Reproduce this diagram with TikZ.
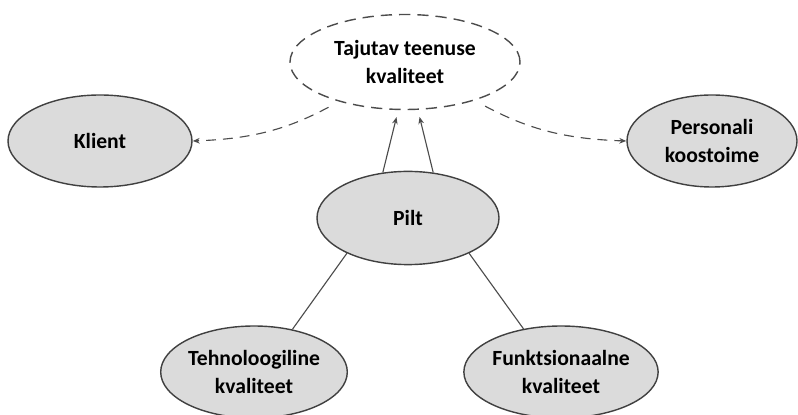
\documentclass[tikz,border=0pt]{standalone}
\usepackage{fontspec}
\setmainfont{Carlito}
\usepackage{xcolor}
\usetikzlibrary{shapes.geometric,arrows.meta}

\begin{document}
\begin{tikzpicture}[font=\fontsize{15.4}{19.5}\selectfont\bfseries,
    bubble/.style={ellipse, draw=black!75, line width=1pt, fill=black!14,
      inner sep=0pt, align=center},
    dashbubble/.style={ellipse, draw=black!70, line width=1pt, dash pattern=on 8pt off 5pt,
      inner sep=0pt, align=center},
    link/.style={draw=black!70, line width=0.8pt},
    dlink/.style={link, dash pattern=on 7pt off 5pt, -{Stealth[length=5pt,width=4pt]}}]
  \useasboundingbox (0,0) rectangle (19.95,-10.375);
  \node[dashbubble, minimum width=5.75cm, minimum height=2.375cm] (kval) at (10.125,-1.55) {Tajutav teenuse\\kvaliteet};
  \node[bubble, minimum width=4.6cm, minimum height=2.3cm] (klient) at (2.5,-3.525) {Klient};
  \node[bubble, minimum width=4.25cm, minimum height=2.3cm] (pers) at (17.8,-3.525) {Personali\\koostoime};
  \node[bubble, minimum width=4.55cm, minimum height=2.33cm] (pilt) at (10.2,-5.45) {Pilt};
  \node[bubble, minimum width=4.55cm, minimum height=2.3cm] (tehno) at (6.35,-9.3) {Tehnoloogiline\\kvaliteet};
  \node[bubble, minimum width=4.45cm, minimum height=2.3cm] (funk) at (14.025,-9.3) {Funktsionaalne\\kvaliteet};
  % pilt moves the perceived quality
  \draw[link, -{Stealth[length=5pt,width=4pt]}, shorten >=0.18cm] (pilt.119) -- (kval.262);
  \draw[link, -{Stealth[length=5pt,width=4pt]}, shorten >=0.18cm] (pilt.61) -- (kval.285);
  \draw[dlink, shorten <=0.3cm] (kval.211) to[bend left=13] (klient.east);
  \draw[dlink, shorten <=0.3cm] (kval.331) to[bend right=13] (pers.west);
  \draw[link] (pilt.210) -- (tehno.48);
  \draw[link] (pilt.330) -- (funk.131);
\end{tikzpicture}
\end{document}
